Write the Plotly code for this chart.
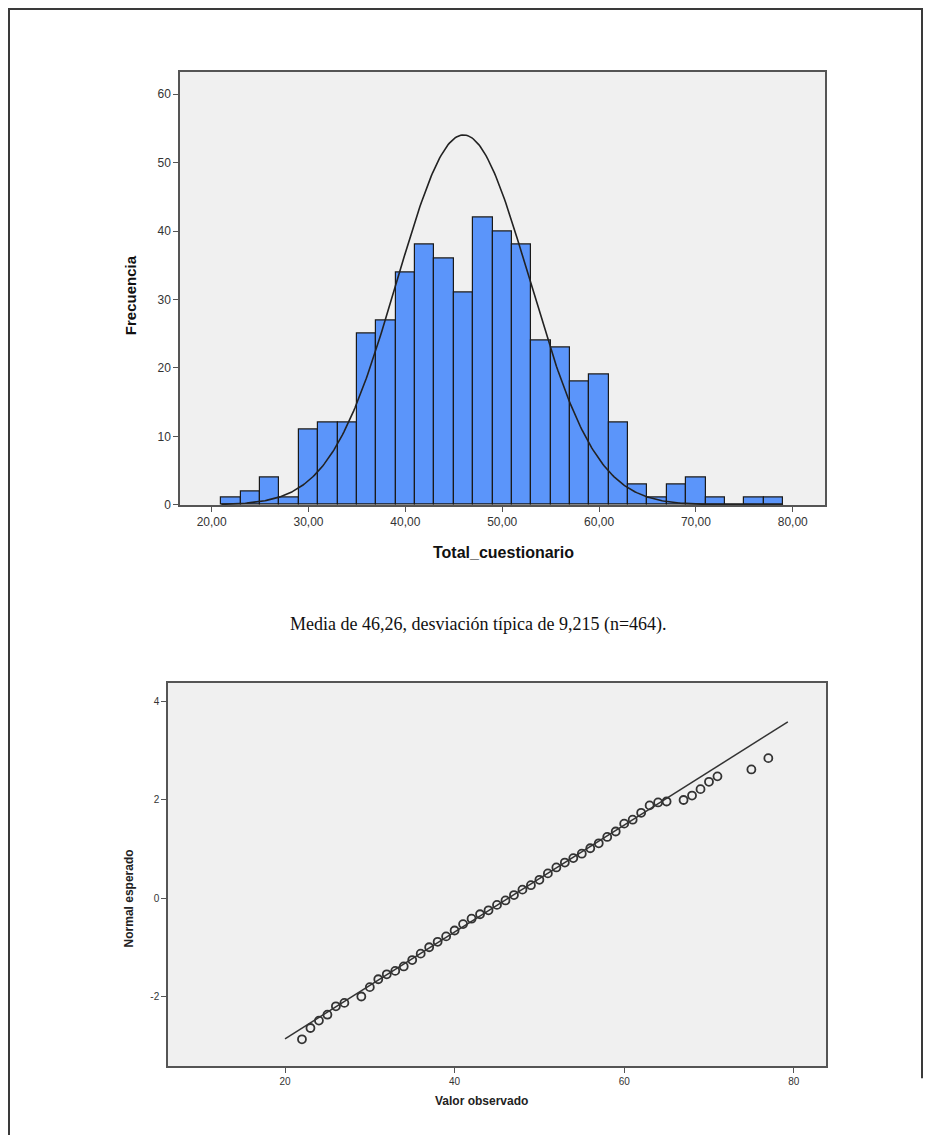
import numpy as np
import plotly.graph_objects as go

# ---------------- data ----------------
bin_centers = [22, 24, 26, 28, 30, 32, 34, 36, 38, 40, 42, 44, 46, 48, 50,
               52, 54, 56, 58, 60, 62, 64, 66, 68, 70, 72, 74, 76, 78]
bin_counts = [1, 2, 4, 1, 11, 12, 12, 25, 27, 34, 38, 36, 31, 42, 40,
              38, 24, 23, 18, 19, 12, 3, 1, 3, 4, 1, 0, 1, 1]
bin_width = 2
hist_xticks = [20, 30, 40, 50, 60, 70, 80]
hist_xticklabels = ["20,00", "30,00", "40,00", "50,00", "60,00", "70,00", "80,00"]
hist_yticks = [0, 10, 20, 30, 40, 50, 60]

# normal curve drawn on the histogram
curve_mean = 46.0
curve_sd = 6.85
curve_n = 464

# Q-Q plot
qq_observed = [22, 23, 24, 25, 26, 27, 29, 30, 31, 32, 33, 34, 35, 36, 37, 38,
               39, 40, 41, 42, 43, 44, 45, 46, 47, 48, 49, 50, 51, 52, 53, 54,
               55, 56, 57, 58, 59, 60, 61, 62, 63, 64, 65, 67, 68, 69, 70, 71,
               75, 77]
qq_expected = [-2.86, -2.63, -2.48, -2.36, -2.19, -2.12, -1.99, -1.80, -1.64,
               -1.54, -1.47, -1.38, -1.25, -1.12, -0.99, -0.88, -0.77, -0.65,
               -0.52, -0.41, -0.32, -0.24, -0.13, -0.04, 0.07, 0.18, 0.27, 0.38,
               0.51, 0.63, 0.73, 0.82, 0.91, 1.02, 1.12, 1.25, 1.36, 1.52, 1.60,
               1.74, 1.89, 1.95, 1.97, 2.00, 2.09, 2.22, 2.37, 2.48, 2.62, 2.85]
qq_mean = 46.26
qq_sd = 9.215
qq_line_x = [20, 79.3]
qq_xticks = [20, 40, 60, 80]
qq_yticks = [-2, 0, 2, 4]
qq_yticklabels = ["-2", "0", "2", "4"]

caption = "Media de 46,26, desviación típica de 9,215 (n=464)."

# ---------------- figure ----------------
W, H = 931, 1142
def px(x):
    return x / W
def py(y):
    return 1 - y / H

fig = go.Figure()

fig.add_trace(go.Bar(
    x=bin_centers, y=bin_counts, width=bin_width,
    marker=dict(color="#5b95fa", line=dict(color="#1a1a1a", width=1.2)),
    xaxis="x", yaxis="y", showlegend=False))

cx = np.linspace(21, 79, 400)
cy = curve_n * bin_width / (curve_sd * np.sqrt(2 * np.pi)) * np.exp(-0.5 * ((cx - curve_mean) / curve_sd) ** 2)
fig.add_trace(go.Scatter(x=cx, y=cy, mode="lines",
                         line=dict(color="#222222", width=1.6),
                         xaxis="x", yaxis="y", showlegend=False))

qq_line_y = [(v - qq_mean) / qq_sd for v in qq_line_x]
fig.add_trace(go.Scatter(x=qq_line_x, y=qq_line_y, mode="lines",
                         line=dict(color="#333333", width=1.5),
                         xaxis="x2", yaxis="y2", showlegend=False))
fig.add_trace(go.Scatter(x=qq_observed, y=qq_expected, mode="markers",
                         marker=dict(symbol="circle-open", size=8,
                                     color="#333333", line=dict(width=1.8)),
                         xaxis="x2", yaxis="y2", showlegend=False))

axis_common = dict(showline=True, mirror=True, linecolor="#555555", linewidth=1.5,
                   ticks="outside", ticklen=5, tickcolor="#555555", tickwidth=1.2,
                   showgrid=False, zeroline=False)

fig.update_layout(
    width=W, height=H,
    margin=dict(l=0, r=0, t=0, b=0),
    paper_bgcolor="white",
    plot_bgcolor="#f0f0f0",
    bargap=0,
    xaxis=dict(domain=[px(180), px(825)], range=[16.73, 83.33],
               tickvals=hist_xticks, ticktext=hist_xticklabels,
               tickfont=dict(family="Liberation Sans, Arial", size=12, color="#333333"),
               anchor="y", **axis_common),
    yaxis=dict(domain=[py(508), py(72)], range=[0, 63.3],
               tickvals=hist_yticks,
               tickfont=dict(family="Liberation Sans, Arial", size=12, color="#333333"),
               anchor="x", **axis_common),
    xaxis2=dict(domain=[px(168), px(826)], range=[6.2, 83.8],
                tickvals=qq_xticks,
                tickfont=dict(family="Liberation Sans Narrow, Liberation Sans", size=10, color="#333333"),
                anchor="y2", **axis_common),
    yaxis2=dict(domain=[py(1073), py(687)], range=[-3.41, 4.38],
                tickvals=qq_yticks, ticktext=qq_yticklabels,
                tickfont=dict(family="Liberation Sans Narrow, Liberation Sans", size=10, color="#333333"),
                anchor="x2", **axis_common),
)

# Axis titles and caption
ann = [
    dict(text="<b>Frecuencia</b>", x=px(130), y=py(297), textangle=-90,
         font=dict(family="Liberation Sans, Arial", size=15, color="#111111")),
    dict(text="<b>Total_cuestionario</b>", x=px(503), y=py(556),
         font=dict(family="Liberation Sans, Arial", size=16, color="#111111")),
    dict(text=caption, x=px(478), y=py(628),
         font=dict(family="Liberation Serif, Times New Roman", size=18, color="#111111")),
    dict(text="<b>Normal esperado</b>", x=px(129), y=py(904), textangle=-90,
         font=dict(family="Liberation Sans, Arial", size=12, color="#222222")),
    dict(text="<b>Valor observado</b>", x=px(481), y=py(1108),
         font=dict(family="Liberation Sans, Arial", size=12, color="#222222")),
]
for a in ann:
    a.update(xref="paper", yref="paper", showarrow=False, xanchor="center", yanchor="middle")
    fig.add_annotation(**a)

# outer page border
fig.add_shape(type="path", xref="paper", yref="paper",
              path=f"M {px(9)},{py(1142)} L {px(9)},{py(9)} L {px(922)},{py(9)} L {px(922)},{py(1085)}",
              line=dict(color="#3a3a3a", width=2))

fig.write_html("out.html",
               config={"displayModeBar": False},
               post_script="document.body.style.margin='0';document.body.style.overflow='hidden';")
